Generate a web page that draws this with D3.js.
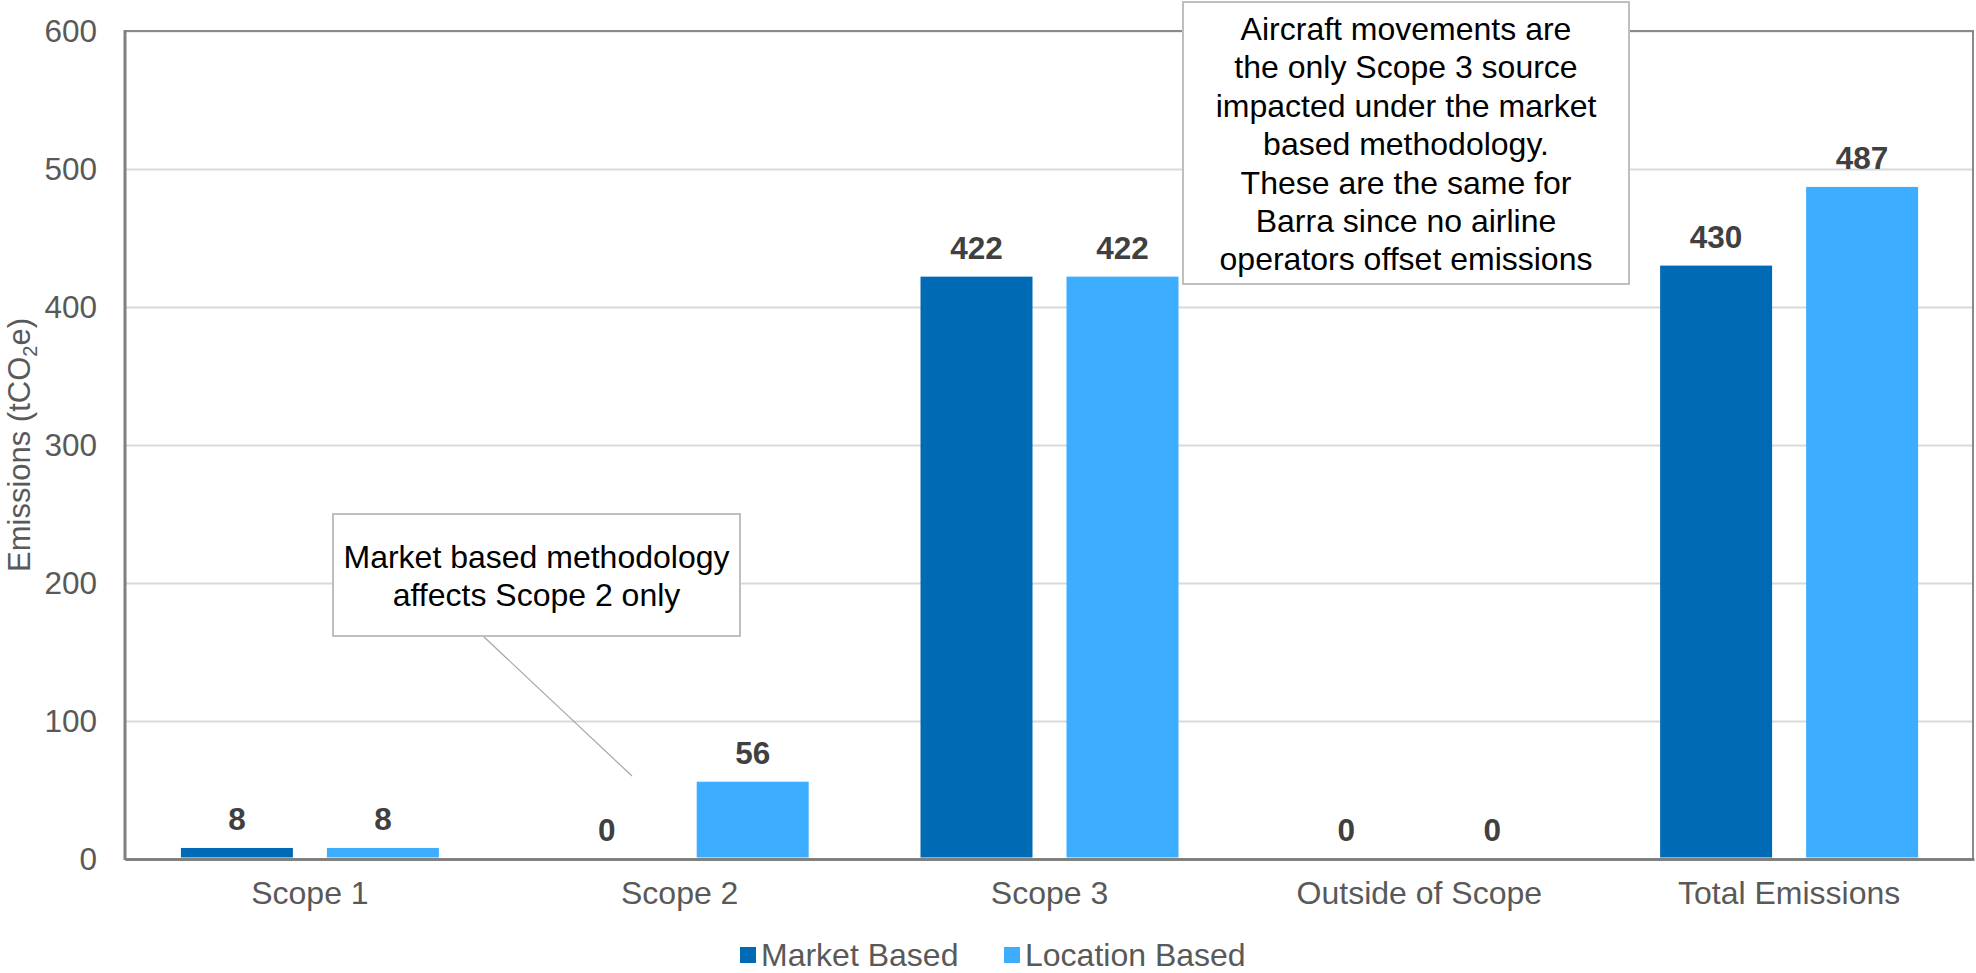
<!DOCTYPE html>
<html>
<head>
<meta charset="utf-8">
<script src="https://cdn.jsdelivr.net/npm/d3@7"></script>
<style>
  html, body { margin: 0; padding: 0; background: #fff; }
  svg { display: block; font-family: "Liberation Sans", Arial, sans-serif; }
</style>
</head>
<body>
<svg width="1976" height="973"></svg>
<script>
var categories = ['Scope 1', 'Scope 2', 'Scope 3', 'Outside of Scope', 'Total Emissions'];
var seriesNames = ['Market Based', 'Location Based'];
var marketBased = [8, 0, 422, 0, 430];
var locationBased = [8, 56, 422, 0, 487];
var yTicks = [0, 100, 200, 300, 400, 500, 600];
var seriesColors = ['#006AB4', '#3DADFF'];

var note1 = ['Market based methodology', 'affects Scope 2 only'];
var note2 = ['Aircraft movements are', 'the only Scope 3 source', 'impacted under the market',
  'based methodology.', 'These are the same for', 'Barra since no airline', 'operators offset emissions'];

var W = 1976, H = 973;
var margin = { top: 31, right: 2, bottom: 114, left: 125 };
var svg = d3.select('svg');

var x0 = d3.scaleBand().domain(categories).range([margin.left, W - margin.right]);
var x1 = d3.scaleBand().domain(seriesNames).range([0, x0.bandwidth()])
  .paddingInner(0.233).paddingOuter(0.383);
var y = d3.scaleLinear().domain([0, 600]).range([H - margin.bottom, margin.top]);

// gridlines
svg.append('g')
  .attr('transform', 'translate(' + margin.left + ',0)')
  .call(d3.axisLeft(y).tickValues(yTicks).tickSize(-(W - margin.left - margin.right)).tickFormat(''))
  .call(function (g) {
    g.select('.domain').remove();
    g.selectAll('line').attr('stroke', '#d9d9d9').attr('stroke-width', 2);
  });

// frame
svg.append('rect')
  .attr('x', margin.left).attr('y', y(600))
  .attr('width', W - margin.left - margin.right - 1)
  .attr('height', y(0) - y(600))
  .attr('fill', 'none').attr('stroke', '#8a8a8a').attr('stroke-width', 2);

// y tick labels
svg.append('g')
  .attr('transform', 'translate(' + margin.left + ',0)')
  .call(d3.axisLeft(y).tickValues(yTicks).tickSize(0).tickPadding(28))
  .call(function (g) {
    g.select('.domain').remove();
    g.selectAll('text').attr('font-size', 31.5).attr('fill', '#595959')
      .attr('font-family', '"Liberation Sans", Arial, sans-serif');
  });

// x axis labels
svg.append('g')
  .attr('transform', 'translate(0,' + y(0) + ')')
  .call(d3.axisBottom(x0).tickSize(0).tickPadding(22))
  .call(function (g) {
    g.select('.domain').attr('stroke', '#808080').attr('stroke-width', 3);
    g.selectAll('text').attr('font-size', 32).attr('fill', '#595959')
      .attr('font-family', '"Liberation Sans", Arial, sans-serif');
  });

// y axis line
svg.append('line')
  .attr('x1', margin.left).attr('x2', margin.left)
  .attr('y1', y(600) - 1).attr('y2', y(0) + 1)
  .attr('stroke', '#808080').attr('stroke-width', 3);

// axis title
var title = svg.append('text')
  .attr('transform', 'translate(30,' + (y(300)) + ') rotate(-90)')
  .attr('text-anchor', 'middle')
  .attr('font-size', 31).attr('fill', '#595959');
title.append('tspan').text('Emissions (tCO');
title.append('tspan').text('2').attr('font-size', 20).attr('dy', 7);
title.append('tspan').text('e)').attr('dy', -7);

// bars
var rows = categories.map(function (c, i) {
  return { cat: c, values: [marketBased[i], locationBased[i]] };
});

var groups = svg.append('g').selectAll('g')
  .data(rows).join('g')
  .attr('transform', function (d) { return 'translate(' + x0(d.cat) + ',0)'; });

groups.selectAll('rect')
  .data(function (d) { return d.values.map(function (v, j) { return { s: seriesNames[j], v: v, j: j }; }); })
  .join('rect')
  .attr('x', function (d) { return x1(d.s); })
  .attr('width', x1.bandwidth())
  .attr('y', function (d) { return y(d.v); })
  .attr('height', function (d) { return Math.max(0, y(0) - y(d.v) - 1.5); })
  .attr('fill', function (d) { return seriesColors[d.j]; });

groups.selectAll('text')
  .data(function (d) { return d.values.map(function (v, j) { return { s: seriesNames[j], v: v }; }); })
  .join('text')
  .attr('x', function (d) { return x1(d.s) + x1.bandwidth() / 2; })
  .attr('y', function (d) { return y(d.v) - 18; })
  .attr('text-anchor', 'middle')
  .attr('font-size', 31.5).attr('font-weight', 'bold').attr('fill', '#404040')
  .text(function (d) { return d.v; });

// annotations
function callout(x, yTop, w, h, lines, firstBase) {
  var g = svg.append('g');
  g.append('rect')
    .attr('x', x).attr('y', yTop).attr('width', w).attr('height', h)
    .attr('fill', '#fff').attr('stroke', '#bfbfbf').attr('stroke-width', 2);
  g.selectAll('text').data(lines).join('text')
    .attr('x', x + w / 2)
    .attr('y', function (d, i) { return firstBase + i * 38.4; })
    .attr('text-anchor', 'middle')
    .attr('font-size', 32).attr('fill', '#000')
    .text(function (d) { return d; });
}

svg.append('line')
  .attr('x1', 483).attr('y1', 636).attr('x2', 632).attr('y2', 776)
  .attr('stroke', '#a6a6a6').attr('stroke-width', 1.2);
callout(333, 514, 407, 122, note1, 568);
callout(1183, 2, 446, 282, note2, 40);

// legend
var legend = svg.append('g');
var legendX = [740, 1004];
seriesNames.forEach(function (name, i) {
  legend.append('rect')
    .attr('x', legendX[i]).attr('y', 947).attr('width', 16).attr('height', 16)
    .attr('fill', seriesColors[i]);
  legend.append('text')
    .attr('x', legendX[i] + 21).attr('y', 966)
    .attr('font-size', 32).attr('fill', '#595959')
    .text(name);
});
</script>
</body>
</html>
